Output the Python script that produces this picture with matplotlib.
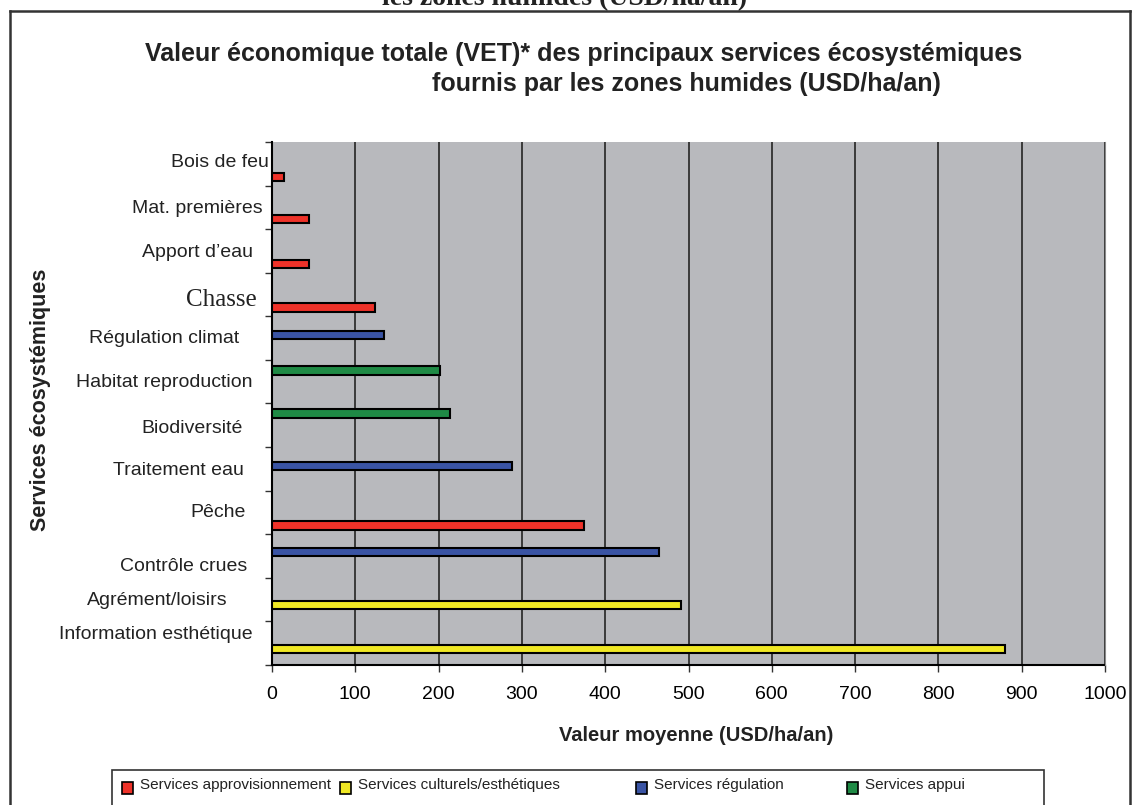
"""Valeur économique totale des services écosystémiques — barres horizontales."""
import matplotlib

matplotlib.use("Agg")
import matplotlib.pyplot as plt  # noqa: E402
from matplotlib.lines import Line2D  # noqa: E402
from matplotlib.patches import Rectangle  # noqa: E402
from matplotlib.transforms import ScaledTranslation, blended_transform_factory  # noqa: E402

W, H, DPI = 1134, 805, 100

services = [
    "Bois de feu", "Mat. premières", "Apport d’eau", "Chasse",
    "Régulation climat", "Habitat reproduction", "Biodiversité",
    "Traitement eau", "Pêche", "Contrôle crues", "Agrément/loisirs",
    "Information esthétique",
]
values = [14, 45, 45, 124, 134, 202, 214, 288, 374, 464, 491, 880]
groups = ["appro", "appro", "appro", "appro", "regul", "appui", "appui",
          "regul", "appro", "regul", "cult", "cult"]

group_labels = {
    "appro": "Services approvisionnement",
    "cult": "Services culturels/esthétiques",
    "regul": "Services régulation",
    "appui": "Services appui",
}
group_colors = {
    "appro": "#ee3229",
    "cult": "#f0e824",
    "regul": "#3a54a4",
    "appui": "#1f8a45",
}
x_ticks = [0, 100, 200, 300, 400, 500, 600, 700, 800, 900, 1000]

# the original bars are not centred in their slots
bar_shift = [0.31, 0.26, 0.30, 0.30, -0.07, -0.26, -0.27, -0.07, 0.30, -0.09, 0.12, 0.13]
# label nudges in pixels: gap to the axis, vertical shift
label_gap = [3, 9, 19, 15, 33, 20, 29, 28, 26, 25, 44, 19]
label_dy = [-3, -1, 0, 3, -2, -1, 1, 0, -2, 8, -1, -11]

plt.rcParams["font.family"] = ["Liberation Sans", "DejaVu Sans"]


def fx(px):
    return px / W


def fy(py):
    return 1 - py / H


fig = plt.figure(figsize=(W / DPI, H / DPI), dpi=DPI)
fig.patch.set_facecolor("white")
ax = fig.add_axes([fx(272), fy(665), fx(1105) - fx(272), fy(142) - fy(665)])
ax.set_facecolor("#b8b9bd")

ypos = [i + s for i, s in enumerate(bar_shift)]
ax.barh(ypos, values, height=0.19, color=[group_colors[g] for g in groups],
        edgecolor="black", linewidth=1.5, zorder=3)

ax.set_xlim(0, 1000)
ax.set_ylim(11.5, -0.5)
ax.set_xticks(x_ticks)
ax.set_xticklabels([str(t) for t in x_ticks], fontsize=14)
ax.set_axisbelow(True)
ax.xaxis.grid(True, color="#303030", linewidth=1.3)
ax.tick_params(axis="x", direction="out", length=5, width=1, color="#333333", pad=10)

ax.set_yticks(range(len(services)))
ax.set_yticklabels([])
ax.set_yticks([i - 0.5 for i in range(len(services) + 1)], minor=True)
ax.tick_params(axis="y", which="major", length=0)
ax.tick_params(axis="y", which="minor", length=5, width=1, color="#333333")

ax.spines["top"].set_visible(False)
ax.spines["right"].set_color("#8a8a8a")
ax.spines["right"].set_zorder(4)
ax.spines["left"].set_linewidth(1.5)
ax.spines["bottom"].set_linewidth(1.5)

trans = blended_transform_factory(ax.transAxes, ax.transData)
for i, name in enumerate(services):
    off = ScaledTranslation(-label_gap[i] / DPI, -label_dy[i] / DPI, fig.dpi_scale_trans)
    if name == "Chasse":
        kw = dict(fontfamily="Liberation Serif", fontsize=18)
    else:
        kw = dict(fontsize=14)
    ax.text(0, i, name, transform=trans + off, ha="right", va="center_baseline",
            color="#222222", **kw)

# titles and axis labels
fig.text(fx(145), fy(61), "Valeur économique totale (VET)* des principaux services écosystémiques",
         fontsize=18, fontweight="bold", color="#222222", ha="left", va="baseline")
fig.text(fx(432), fy(91), "fournis par les zones humides (USD/ha/an)",
         fontsize=18, fontweight="bold", color="#222222", ha="left", va="baseline")
fig.text(fx(696), fy(741), "Valeur moyenne (USD/ha/an)", fontsize=14.5,
         fontweight="bold", color="#222222", ha="center", va="baseline")
fig.text(fx(41), fy(400), "Services écosystémiques", fontsize=15.5, fontweight="bold",
         color="#222222", rotation=90, ha="center", va="center")

# caption cut off at the very top, as in the source scan
fig.text(fx(565), fy(5), "les zones humides (USD/ha/an)", fontsize=20,
         fontfamily="Liberation Serif", fontweight="bold", color="#222222",
         ha="center", va="baseline")

# outer frame
for xs, ys in [((10, 10), (11, 805)), ((10, 1130), (11, 11)), ((1130, 1130), (11, 805))]:
    fig.add_artist(Line2D([fx(x) for x in xs], [fy(y) for y in ys],
                          color="#333333", linewidth=1.8))

# legend box
fig.add_artist(Rectangle((fx(112), fy(812)), fx(1044) - fx(112), fy(770) - fy(812),
                         facecolor="white", edgecolor="#333333", linewidth=1.2))
legend_x = {"appro": 122, "cult": 340, "regul": 636, "appui": 847}
for key in ["appro", "cult", "regul", "appui"]:
    x0 = legend_x[key]
    fig.add_artist(Rectangle((fx(x0), fy(794)), fx(11), fy(782) - fy(794),
                             facecolor=group_colors[key], edgecolor="black", linewidth=1.2))
    fig.text(fx(x0 + 18), fy(785), group_labels[key], fontsize=11, color="#222222",
             ha="left", va="center")

fig.savefig("out.png", dpi=DPI)
plt.close(fig)
